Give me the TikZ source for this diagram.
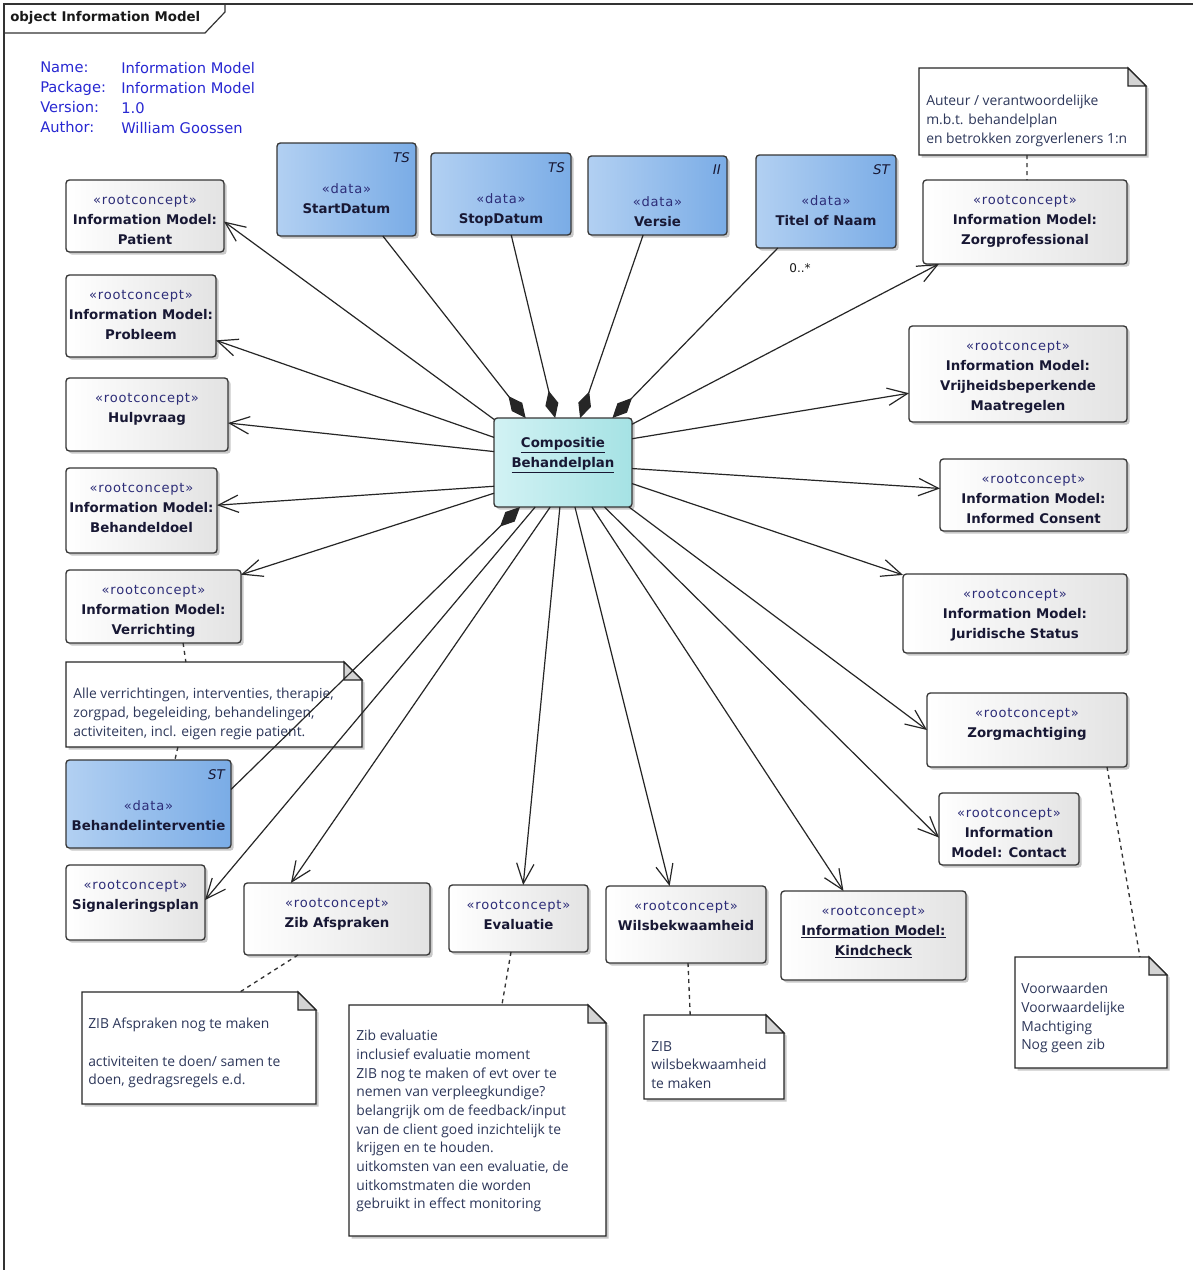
\documentclass[tikz,border=0pt]{standalone}
\usepackage{fontspec}
\setmainfont{DejaVu Sans}
\newfontfamily\notefont{Open Sans}
\newfontfamily\stfont[LetterSpace=6]{DejaVu Sans}
\usetikzlibrary{arrows.meta,fit,calc,shadows}
\definecolor{navy}{RGB}{24,24,52}
\definecolor{sttext}{RGB}{45,45,120}
\definecolor{hdrblue}{RGB}{40,40,210}
\definecolor{notetext}{RGB}{45,55,90}
\definecolor{datal}{RGB}{178,208,242}
\definecolor{datar}{RGB}{122,172,230}
\definecolor{compl}{RGB}{210,242,244}
\definecolor{compr}{RGB}{165,226,228}
\definecolor{edge}{RGB}{55,55,55}
\newcommand\myStereo[1]{{\stfont\color{sttext}\fontsize{9.8}{15}\selectfont «#1»}}
\tikzset{
  boxbase/.style={draw=edge, line width=1pt, rounded corners=2.5pt, inner sep=0pt, outer sep=0pt,
    drop shadow={shadow xshift=2pt, shadow yshift=-2pt, opacity=0.3, fill=black!70}},
  rcbox/.style={boxbase, left color=white, right color=black!11},
  databox/.style={boxbase, left color=datal, right color=datar},
  compbox/.style={boxbase, left color=compl, right color=compr},
  boxtext/.style={anchor=north, align=center, inner sep=0pt, text=navy, font=\fontsize{10}{15}\selectfont},
  tcode/.style={anchor=north east, inner sep=0pt, text=navy, font=\fontsize{10}{12}\selectfont\itshape},
  notetxt/.style={anchor=north west, align=left, inner sep=0pt, text=notetext, font=\notefont\fontsize{10.4}{14}\selectfont},
  assoc/.style={draw=black!85, line width=0.9pt, -{Straight Barb[length=15pt,width=13pt]}},
  compo/.style={draw=black!85, line width=0.9pt, {Diamond[length=21pt,width=10pt]}-},
  notelink/.style={draw=black!80, line width=1pt, dash pattern=on 3pt off 3pt},
}
\newcommand\myRcNode[6]{%
  \node[rcbox, fit={(#2,#3) (#4,#5)}] (#1) {};
  \node[boxtext] (#1-t) at ($(#1.north)+(0,15)$) {#6};}
\newcommand\myDataNode[7]{%
  \node[databox, fit={(#2,#3) (#4,#5)}] (#1) {};
  \node[boxtext] (#1-t) at ($(#1.north)+(0,40)$) {\myStereo{data}\\\textbf{#7}};
  \node[tcode] (#1-c) at ($(#1.north east)+(-6,9)$) {#6};}
\newcommand\myNoteNode[8]{%
  \node[inner sep=0pt, outer sep=0pt, fit={(#2,#3) (#4,#5)}] (#1) {};
  \filldraw[fill=white, draw=black!85, line width=0.9pt,
    drop shadow={shadow xshift=2pt, shadow yshift=-2pt, opacity=0.3, fill=black!70}]
    (#1.north west) -- ($(#1.north east)+(-18,0)$) -- ($(#1.north east)+(0,18)$)
    -- (#1.south east) -- (#1.south west) -- cycle;
  \filldraw[fill=black!17, draw=black!85, line width=0.9pt]
    ($(#1.north east)+(-18,0)$) -- ($(#1.north east)+(-18,18)$) -- ($(#1.north east)+(0,18)$) -- cycle;
  \node[notetxt] (#1-t) at (#6,#7) {#8};}
\begin{document}
\begin{tikzpicture}[x=0.75pt,y=-0.75pt]
\useasboundingbox (0,0) rectangle (1193,1270);
\fill[white] (0,0) rectangle (1193,1270);
% frame
\draw[black!80, line width=0.9pt] (4,1270) -- (4,4) -- (1193,4);
\draw[black!80, line width=0.9pt] (4,33) -- (205,33) -- (225,12) -- (225,4);
\node[anchor=west, inner sep=0pt, text=black!90, font=\bfseries\fontsize{10}{12}\selectfont] (title) at (10,18) {object Information Model};
% header
\node[anchor=north west, inner sep=0pt, align=left, text=hdrblue, font=\fontsize{11}{15}\selectfont] (hdrk) at (40,62) {Name:\\Package:\\Version:\\Author:};
\node[anchor=north west, inner sep=0pt, align=left, text=hdrblue, font=\fontsize{11}{15}\selectfont] (hdrv) at (121,62) {Information Model\\Information Model\\1.0\\William Goossen};

% data boxes
\myDataNode{startd}{277}{143}{416}{236}{TS}{StartDatum}
\myDataNode{stopd}{431}{153}{571}{235}{TS}{StopDatum}
\myDataNode{versie}{588}{156}{727}{235}{II}{Versie}
\myDataNode{titel}{756}{155}{896}{248}{ST}{Titel of Naam}
\myDataNode{behint}{66}{760}{231}{848}{ST}{Behandelinterventie}

% composite
\node[compbox, fit={(494,418) (632,507)}] (comp) {};
\node[boxtext] (comp-t) at ($(comp.north)+(0,19)$) {\textbf{\underline{Compositie}}\\\textbf{\underline{Behandelplan}}};

% root concepts
\myRcNode{patient}{66}{180}{224}{252}{\myStereo{rootconcept}\\\textbf{Information Model:}\\\textbf{Patient}}
\myRcNode{probleem}{66}{275}{216}{357}{\myStereo{rootconcept}\\\textbf{Information Model:}\\\textbf{Probleem}}
\myRcNode{hulp}{66}{378}{228}{451}{\myStereo{rootconcept}\\\textbf{Hulpvraag}}
\myRcNode{doel}{66}{468}{217}{553}{\myStereo{rootconcept}\\\textbf{Information Model:}\\\textbf{Behandeldoel}}
\myRcNode{verr}{66}{570}{241}{643}{\myStereo{rootconcept}\\\textbf{Information Model:}\\\textbf{Verrichting}}
\myRcNode{signal}{66}{865}{205}{940}{\myStereo{rootconcept}\\\textbf{Signaleringsplan}}
\myRcNode{afspr}{244}{883}{430}{955}{\myStereo{rootconcept}\\\textbf{Zib Afspraken}}
\myRcNode{evalu}{449}{885}{588}{952}{\myStereo{rootconcept}\\\textbf{Evaluatie}}
\myRcNode{wils}{606}{886}{766}{963}{\myStereo{rootconcept}\\\textbf{Wilsbekwaamheid}}
\myRcNode{kind}{781}{891}{966}{980}{\myStereo{rootconcept}\\\textbf{\underline{Information Model:}}\\\textbf{\underline{Kindcheck}}}
\myRcNode{contact}{939}{793}{1079}{865}{\myStereo{rootconcept}\\\textbf{Information}\\\textbf{Model: Contact}}
\myRcNode{machtig}{927}{693}{1127}{767}{\myStereo{rootconcept}\\\textbf{Zorgmachtiging}}
\myRcNode{jurid}{903}{574}{1127}{653}{\myStereo{rootconcept}\\\textbf{Information Model:}\\\textbf{Juridische Status}}
\myRcNode{consent}{940}{459}{1127}{531}{\myStereo{rootconcept}\\\textbf{Information Model:}\\\textbf{Informed Consent}}
\myRcNode{vrij}{909}{326}{1127}{422}{\myStereo{rootconcept}\\\textbf{Information Model:}\\\textbf{Vrijheidsbeperkende}\\\textbf{Maatregelen}}
\myRcNode{zprof}{923}{180}{1127}{264}{\myStereo{rootconcept}\\\textbf{Information Model:}\\\textbf{Zorgprofessional}}

% notes
\myNoteNode{nzprof}{919}{68}{1146}{155}{926}{95}{Auteur / verantwoordelijke\\m.b.t. behandelplan\\en betrokken zorgverleners 1:n}
\myNoteNode{nverr}{66}{662}{362}{747}{73}{688}{Alle verrichtingen, interventies, therapie,\\zorgpad, begeleiding, behandelingen,\\activiteiten, incl. eigen regie patient.}
\myNoteNode{nafspr}{82}{992}{316}{1104}{88}{1018}{ZIB Afspraken nog te maken\\[14pt]activiteiten te doen/ samen te\\doen, gedragsregels e.d.}
\myNoteNode{neval}{349}{1005}{606}{1236}{356}{1030}{Zib evaluatie\\inclusief evaluatie moment\\ZIB nog te maken of evt over te\\nemen van verpleegkundige?\\belangrijk om de feedback/input\\van de client goed inzichtelijk te\\krijgen en te houden.\\uitkomsten van een evaluatie, de\\uitkomstmaten die worden\\gebruikt in effect monitoring}
\myNoteNode{nwils}{644}{1015}{784}{1099}{651}{1041}{ZIB\\wilsbekwaamheid\\te maken}
\myNoteNode{nmacht}{1015}{957}{1167}{1068}{1021}{983}{Voorwaarden\\Voorwaardelijke\\Machtiging\\Nog geen zib}

% note links
\draw[notelink] ($(nzprof.south west)!0.476!(nzprof.south east)$) -- ($(zprof.north west)!0.51!(zprof.north east)$);
\draw[notelink] ($(verr.south west)!0.669!(verr.south east)$) -- ($(nverr.north west)!0.405!(nverr.north east)$);
\draw[notelink] ($(nverr.south west)!0.378!(nverr.south east)$) -- ($(behint.north west)!0.66!(behint.north east)$);
\draw[notelink] ($(afspr.south west)!0.29!(afspr.south east)$) -- ($(nafspr.north west)!0.675!(nafspr.north east)$);
\draw[notelink] ($(evalu.south west)!0.446!(evalu.south east)$) -- ($(neval.north west)!0.595!(neval.north east)$);
\draw[notelink] ($(wils.south west)!0.5125!(wils.south east)$) -- ($(nwils.north west)!0.33!(nwils.north east)$);
\draw[notelink] ($(machtig.south west)!0.9!(machtig.south east)$) -- ($(nmacht.north west)!0.822!(nmacht.north east)$);

% compositions (diamond at composite)
\draw[compo] (comp.130) -- (startd.-52);
\draw[compo] (comp.100) -- (stopd.-76);
\draw[compo] (comp.69) -- (versie.250);
\draw[compo] (comp.42) -- (titel.224);
\draw[compo] (comp.226) -- (behint.10);
\node[inner sep=0pt, font=\fontsize{9}{11}\selectfont, text=black!90] (mult) at (800,268) {0..*};

% associations
\draw[assoc] (comp.148) -- (patient.-4);
\draw[assoc] (comp.160) -- (probleem.-18);
\draw[assoc] (comp.171) -- (hulp.-6);
\draw[assoc] (comp.199) -- (doel.4);
\draw[assoc] (comp.204) -- (verr.20);
\draw[assoc] (comp.238) -- (signal.2);
\draw[assoc] (comp.254) -- (afspr.142);
\draw[assoc] (comp.266) -- (evalu.82);
\draw[assoc] (comp.285) -- (wils.113);
\draw[assoc] (comp.303) -- (kind.124);
\draw[assoc] (comp.313) -- (contact.187);
\draw[assoc] (comp.326) -- (machtig.180);
\draw[assoc] (comp.343) -- (jurid.161);
\draw[assoc] (comp.355) -- (consent.176);
\draw[assoc] (comp.19) -- (vrij.190);
\draw[assoc] (comp.29) -- (zprof.206);
\end{tikzpicture}
\end{document}
